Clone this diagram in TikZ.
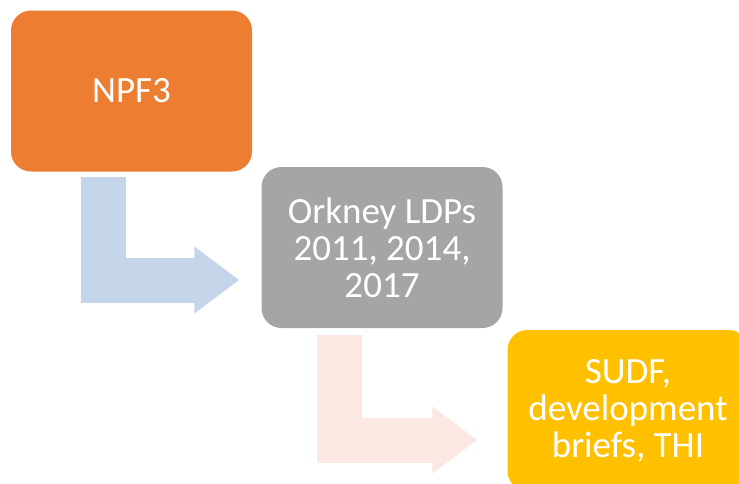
\documentclass[tikz,border=0pt]{standalone}
\usepackage{fontspec}
\setmainfont{Carlito}
\usetikzlibrary{arrows.meta,positioning,calc}

\definecolor{npforange}{HTML}{ED7D31}
\definecolor{ldpgrey}{HTML}{A5A5A5}
\definecolor{sudfyellow}{HTML}{FFC000}
\definecolor{flowblue}{HTML}{C5D5EA}
\definecolor{flowpink}{HTML}{FBE8E2}

\tikzset{
  stage/.style={rounded corners=20pt, minimum width=241pt, minimum height=161pt,
    inner sep=0pt, text=white, align=center, font=\fontsize{37}{37}\selectfont},
  bentarrow/.style={line width=45pt, line join=miter,
    -{Triangle[width=64pt,length=45pt]}}
}

\begin{document}
\begin{tikzpicture}[x=1pt,y=-1pt]
        \clip (0,0) rectangle (739,483);

        \node[stage, fill=npforange] (npf) at (131.5,91) {NPF3};
        \node[stage, fill=ldpgrey] (ldp) at (382,247.5) {Orkney LDPs\\2011, 2014,\\2017};
        \node[stage, fill=sudfyellow] (sudf) at (628,410.5) {SUDF,\\development\\briefs, THI};

        % bent arrows between the stages
        \draw[bentarrow, flowblue] ($(npf.south west)+(92.5,5)$) |- ($(ldp.west)+(-22,32.5)$);
        \draw[bentarrow, flowpink] ($(ldp.south west)+(78.5,7)$) |- ($(sudf.west)+(-30,29.5)$);
\end{tikzpicture}
\end{document}
